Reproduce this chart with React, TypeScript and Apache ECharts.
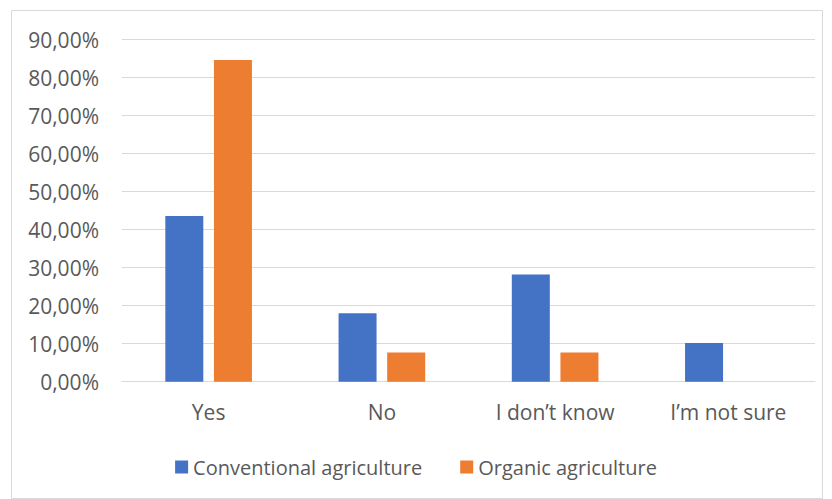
import React, { useEffect, useRef } from "react";
import * as echarts from "echarts";

const categories = ["Yes", "No", "I don\u2019t know", "I\u2019m not sure"];
const conventional = [43.6, 18.0, 28.2, 10.2];
const organic = [84.6, 7.7, 7.7, 0];
const seriesNames = ["Conventional agriculture", "Organic agriculture"];

export default function App() {
  const ref = useRef<HTMLDivElement>(null);
  useEffect(() => {
    if (!ref.current) return;
    const chart = echarts.init(ref.current, undefined, { renderer: "svg" });
    const font = "'Open Sans', 'Noto Sans', sans-serif";
    chart.setOption({
      animation: false,
      backgroundColor: "#ffffff",
      graphic: [
        {
          type: "rect",
          shape: { x: 11.5, y: 10.5, width: 811, height: 488 },
          style: { fill: "none", stroke: "#d9d9d9", lineWidth: 1 },
          silent: true,
        },
      ],
      grid: { left: 122, right: 17, top: 39.5, bottom: 117.3, containLabel: false },
      legend: {
        data: seriesNames,
        left: "center",
        top: 452,
        itemWidth: 13,
        itemHeight: 13,
        itemGap: 38,
        icon: "rect",
        textStyle: { color: "#595959", fontSize: 20, fontFamily: font },
      },
      xAxis: {
        type: "category",
        data: categories,
        axisLine: { show: true, lineStyle: { color: "#d9d9d9", width: 1 } },
        axisTick: { show: false },
        axisLabel: { color: "#595959", fontSize: 21, fontFamily: font, margin: 20 },
      },
      yAxis: {
        type: "value",
        min: 0,
        max: 90,
        interval: 10,
        axisLine: { show: false },
        axisTick: { show: false },
        splitLine: { lineStyle: { color: "#d9d9d9", width: 1 } },
        axisLabel: {
          color: "#595959",
          fontSize: 21,
          fontFamily: font,
          margin: 23,
          formatter: (v: number) => v.toFixed(2).replace(".", ",") + "%",
        },
      },
      series: [
        {
          name: seriesNames[0],
          type: "bar",
          data: conventional,
          barWidth: 38,
          barGap: "28%",
          itemStyle: { color: "#4472C4" },
        },
        {
          name: seriesNames[1],
          type: "bar",
          data: organic,
          barWidth: 38,
          barGap: "28%",
          itemStyle: { color: "#ED7D31" },
        },
      ],
    });
    return () => chart.dispose();
  }, []);
  return <div ref={ref} style={{ width: 832, height: 499, position: "absolute", left: 0, top: 0 }} />;
}
